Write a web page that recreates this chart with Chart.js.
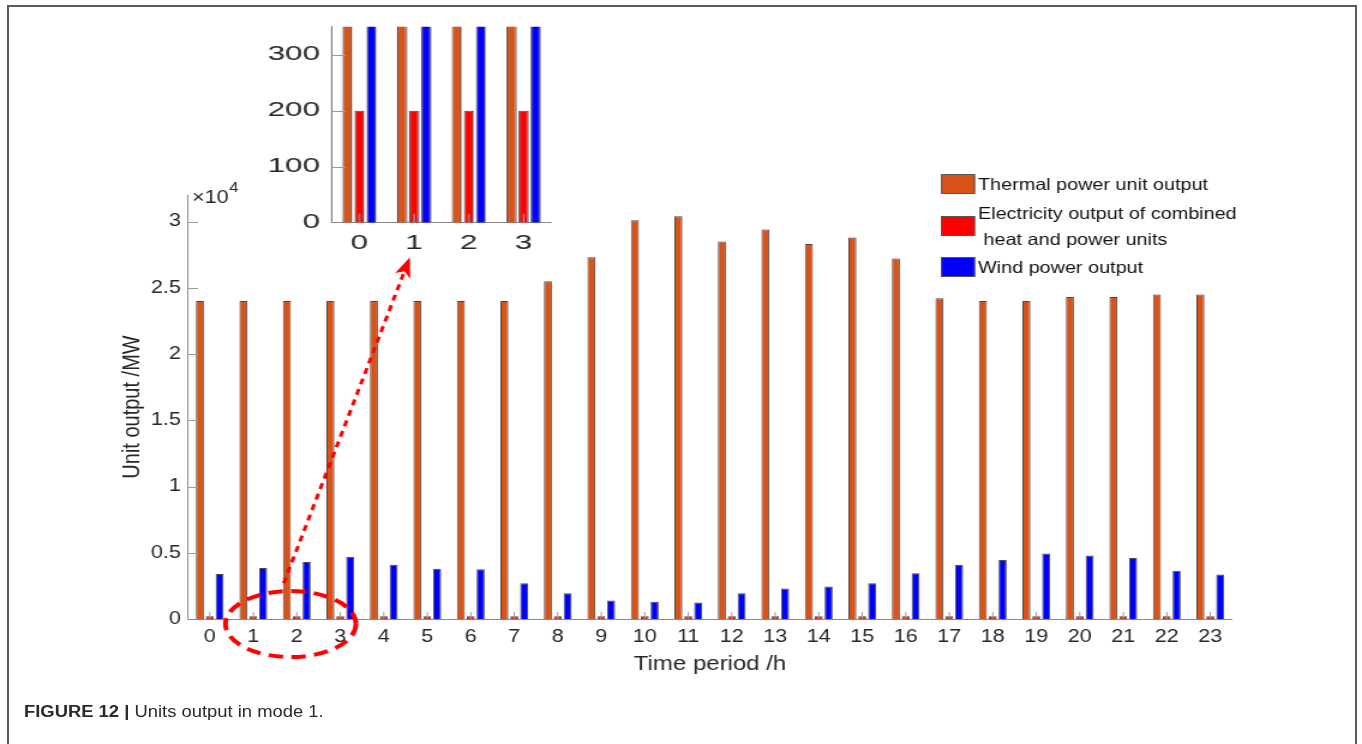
<!DOCTYPE html>
<html>
<head>
<meta charset="utf-8">
<script src="https://cdn.jsdelivr.net/npm/chart.js@4.4.1/dist/chart.umd.min.js"></script>
<style>
  html, body { margin:0; padding:0; background:#fff; width:1362px; height:744px; overflow:hidden; }
  #frame { position:absolute; left:7px; top:5px; width:1346px; height:780px; border:2px solid #5a5a5a; border-bottom:none; }
  #mainWrap { position:absolute; left:0; top:0; width:1135px; height:744px; transform:scaleX(1.2); transform-origin:0 0; }
  #insetWrap { position:absolute; left:250px; top:0; width:207px; height:260px; transform:scaleX(1.5); transform-origin:0 0; }
  #caption { position:absolute; left:24px; top:704px; font-family:"Liberation Sans", Arial, sans-serif; font-size:16px; line-height:1; color:#2a2a2a; white-space:nowrap; transform:scaleX(1.15); transform-origin:0 0; }
  #caption b { font-weight:bold; }
</style>
</head>
<body>
<div id="frame"></div>
<div id="mainWrap"><canvas id="main" width="1135" height="744"></canvas></div>
<div id="insetWrap"><canvas id="inset" width="207" height="260"></canvas></div>
<div id="caption"><b>FIGURE 12 |</b> Units output in mode 1.</div>
<script>
// ---------------- data ----------------
const hours = ['0','1','2','3','4','5','6','7','8','9','10','11','12','13','14','15','16','17','18','19','20','21','22','23'];
const thermal = [24000,24000,24000,24000,24000,24000,24000,24000,25500,27300,30100,30400,28500,29400,28300,28800,27200,24200,24000,24000,24300,24300,24500,24500];
const chp = [200,200,200,200,200,200,200,200,200,200,200,200,200,200,200,200,200,200,200,200,200,200,200,200];
const wind = [3400,3850,4300,4700,4100,3800,3750,2700,1950,1400,1300,1250,1950,2300,2450,2700,3450,4100,4450,4950,4800,4600,3650,3350];
const seriesNames = ['Thermal power unit output', 'Electricity output of combined\n heat and power units', 'Wind power output'];
const yTicks = [0, 5000, 10000, 15000, 20000, 25000, 30000];
const insetHours = hours.slice(0, 4);
const insetYTicks = [0, 100, 200, 300];

// ---------------- styling ----------------
const FONT = '"Liberation Sans", Arial, Helvetica, sans-serif';
const TXT = '#262626';
const AXIS = '#8a8a8a';
const COLORS = ['#D95319', '#FF0000', '#0000FF'];
const EDGE = '#4a4a4a';
const SX = 1.2;          // horizontal stretch of main figure
const cx = v => v / SX;  // target px -> canvas px
const SXI = 1.5;         // horizontal stretch of inset
const ci = v => v / SXI;

// inward tick marks (MATLAB style)
const inTicks = {
  id: 'inTicks',
  afterDatasetsDraw(chart, args, opts) {
    const { ctx, chartArea: a, scales: { x, y } } = chart;
    ctx.save();
    ctx.strokeStyle = opts.color || '#9a9a9a';
    ctx.lineWidth = 1;
    ctx.beginPath();
    y.ticks.forEach((t) => {
      if (t.value === 0) return;
      const py = Math.round(y.getPixelForValue(t.value)) + 0.5;
      ctx.moveTo(a.left, py); ctx.lineTo(a.left + opts.yLen, py);
    });
    x.ticks.forEach((t, i) => {
      const px = x.getPixelForTick(i);
      ctx.moveTo(px, a.bottom); ctx.lineTo(px, a.bottom - opts.xLen);
    });
    ctx.stroke();
    ctx.restore();
  }
};

// legend drawn on the canvas (multi-line entry)
const figLegend = {
  id: 'figLegend',
  afterDraw(chart) {
    const ctx = chart.ctx;
    const ds = chart.data.datasets;
    const swX = cx(941), swW = cx(34), swH = 20, txX = cx(978);
    const centers = [184, 226, 267];
    ctx.save();
    ctx.font = '16.5px ' + FONT;
    ctx.textBaseline = 'middle';
    ctx.textAlign = 'left';
    ds.forEach((d, i) => {
      const c = centers[i];
      ctx.fillStyle = d.backgroundColor;
      ctx.fillRect(swX, c - swH / 2, swW, swH);
      ctx.strokeStyle = '#555';
      ctx.lineWidth = 1;
      ctx.strokeRect(swX + 0.5, c - swH / 2 + 0.5, swW - 1, swH - 1);
      ctx.fillStyle = '#111';
      const lines = d.label.split('\n');
      const lh = 26;
      lines.forEach((ln, k) => {
        const yy = c + (k - (lines.length - 1) / 2) * lh;
        ctx.fillText(ln, txX, yy + 1);
      });
    });
    // x10^4 exponent label
    const ys = chart.scales.y;
    const top = ys.top;
    ctx.fillStyle = TXT;
    ctx.textBaseline = 'alphabetic';
    ctx.font = '18px ' + FONT;
    ctx.fillText('\u00d710', cx(192), top + 8);
    const w = ctx.measureText('\u00d710').width;
    ctx.font = '14px ' + FONT;
    ctx.fillText('4', cx(192) + w + 0.5, top - 3);
    ctx.restore();
  }
};

// red dashed ellipse + arrow pointing to the inset
const annot = {
  id: 'annot',
  afterDraw(chart) {
    const { ctx, scales: { x, y } } = chart;
    const step = x.getPixelForValue(1) - x.getPixelForValue(0);
    ctx.save();
    ctx.strokeStyle = '#ff0000';
    ctx.fillStyle = '#ff0000';
    // ellipse
    ctx.lineWidth = 4;
    ctx.setLineDash([12, 7]);
    ctx.beginPath();
    ctx.ellipse(x.getPixelForValue(1.86), y.getPixelForValue(-380), step * 1.5, 33, 0, 0, Math.PI * 2);
    ctx.stroke();
    // arrow (computed in target space, drawn in canvas space)
    const sx = x.getPixelForValue(1.7) * SX, sy = y.getPixelForValue(2700);
    const ex = x.getPixelForValue(4.6) * SX, ey = y.getPixelForValue(27300);
    const dx = ex - sx, dy = ey - sy, L = Math.hypot(dx, dy);
    const ux = dx / L, uy = dy / L, nx = -uy, ny = ux;
    const headL = 20, headW = 8;
    const bx = ex - ux * headL, by = ey - uy * headL;
    ctx.lineWidth = 3;
    ctx.setLineDash([6, 5]);
    ctx.beginPath();
    ctx.moveTo(sx / SX, sy);
    ctx.lineTo((bx + ux * 2) / SX, by + uy * 2);
    ctx.stroke();
    ctx.setLineDash([]);
    ctx.beginPath();
    ctx.moveTo(ex / SX, ey);
    ctx.lineTo((bx + nx * headW) / SX, by + ny * headW);
    ctx.lineTo((bx + ux * 5) / SX, by + uy * 5);
    ctx.lineTo((bx - nx * headW) / SX, by - ny * headW);
    ctx.closePath();
    ctx.fill();
    ctx.restore();
  }
};

function makeDatasets(n) {
  const src = [thermal, chp, wind];
  return src.map((arr, i) => ({
    label: seriesNames[i],
    data: n ? arr.slice(0, n) : arr,
    backgroundColor: COLORS[i],
    borderColor: EDGE,
    borderWidth: 1
  }));
}

// ---------------- main chart ----------------
new Chart(document.getElementById('main'), {
  type: 'bar',
  data: { labels: hours, datasets: makeDatasets(0) },
  options: {
    responsive: false,
    animation: false,
    devicePixelRatio: 1,
    layout: { padding: { left: 0, right: 1135 - cx(1232), top: 195, bottom: 65 } },
    datasets: { bar: { categoryPercentage: 0.68, barPercentage: 0.81 } },
    plugins: {
      legend: { display: false },
      tooltip: { enabled: false },
      inTicks: { yLen: cx(10), xLen: 7, color: '#9a9a9a' }
    },
    scales: {
      x: {
        grid: { display: false, drawTicks: false },
        border: { display: true, color: AXIS, width: 1 },
        ticks: { color: TXT, font: { family: FONT, size: 18 }, padding: 7, maxRotation: 0, autoSkip: false },
        title: { display: true, text: 'Time period /h', color: TXT, font: { family: FONT, size: 20 }, padding: { top: 0, bottom: 3 } },
        afterFit(s) { s.height = 60; }
      },
      y: {
        min: 0, max: 32000,
        grid: { display: false, drawTicks: false },
        border: { display: true, color: AXIS, width: 1 },
        afterBuildTicks(s) { s.ticks = yTicks.map(v => ({ value: v })); },
        ticks: { color: TXT, font: { family: FONT, size: 18 }, padding: cx(7),
                 callback: v => String(v / 1e4) },
        title: { display: true, text: 'Unit output /MW', color: TXT, font: { family: FONT, size: 20 }, padding: { top: cx(133) - 12, bottom: 0 } },
        afterFit(s) { s.width = cx(188); }
      }
    }
  },
  plugins: [inTicks, figLegend, annot]
});

// ---------------- inset chart ----------------
new Chart(document.getElementById('inset'), {
  type: 'bar',
  data: { labels: insetHours, datasets: makeDatasets(4) },
  options: {
    responsive: false,
    animation: false,
    devicePixelRatio: 1,
    layout: { padding: { left: 0, right: 207 - ci(551 - 250), top: 26.7, bottom: 0 } },
    datasets: { bar: { categoryPercentage: 0.66, barPercentage: 0.83 } },
    plugins: {
      legend: { display: false },
      tooltip: { enabled: false },
      inTicks: { yLen: ci(14), xLen: 9, color: '#9a9a9a' }
    },
    scales: {
      x: {
        grid: { display: false, drawTicks: false },
        border: { display: true, color: AXIS, width: 1 },
        ticks: { color: TXT, font: { family: FONT, size: 21 }, padding: 8, maxRotation: 0 },
        afterFit(s) { s.height = 260 - 222.7; }
      },
      y: {
        min: 0, max: 350,
        grid: { display: false, drawTicks: false },
        border: { display: true, color: AXIS, width: 1 },
        afterBuildTicks(s) { s.ticks = insetYTicks.map(v => ({ value: v })); },
        ticks: { color: TXT, font: { family: FONT, size: 21 }, padding: ci(12) },
        afterFit(s) { s.width = ci(332 - 250); }
      }
    }
  },
  plugins: [inTicks]
});
</script>
</body>
</html>
